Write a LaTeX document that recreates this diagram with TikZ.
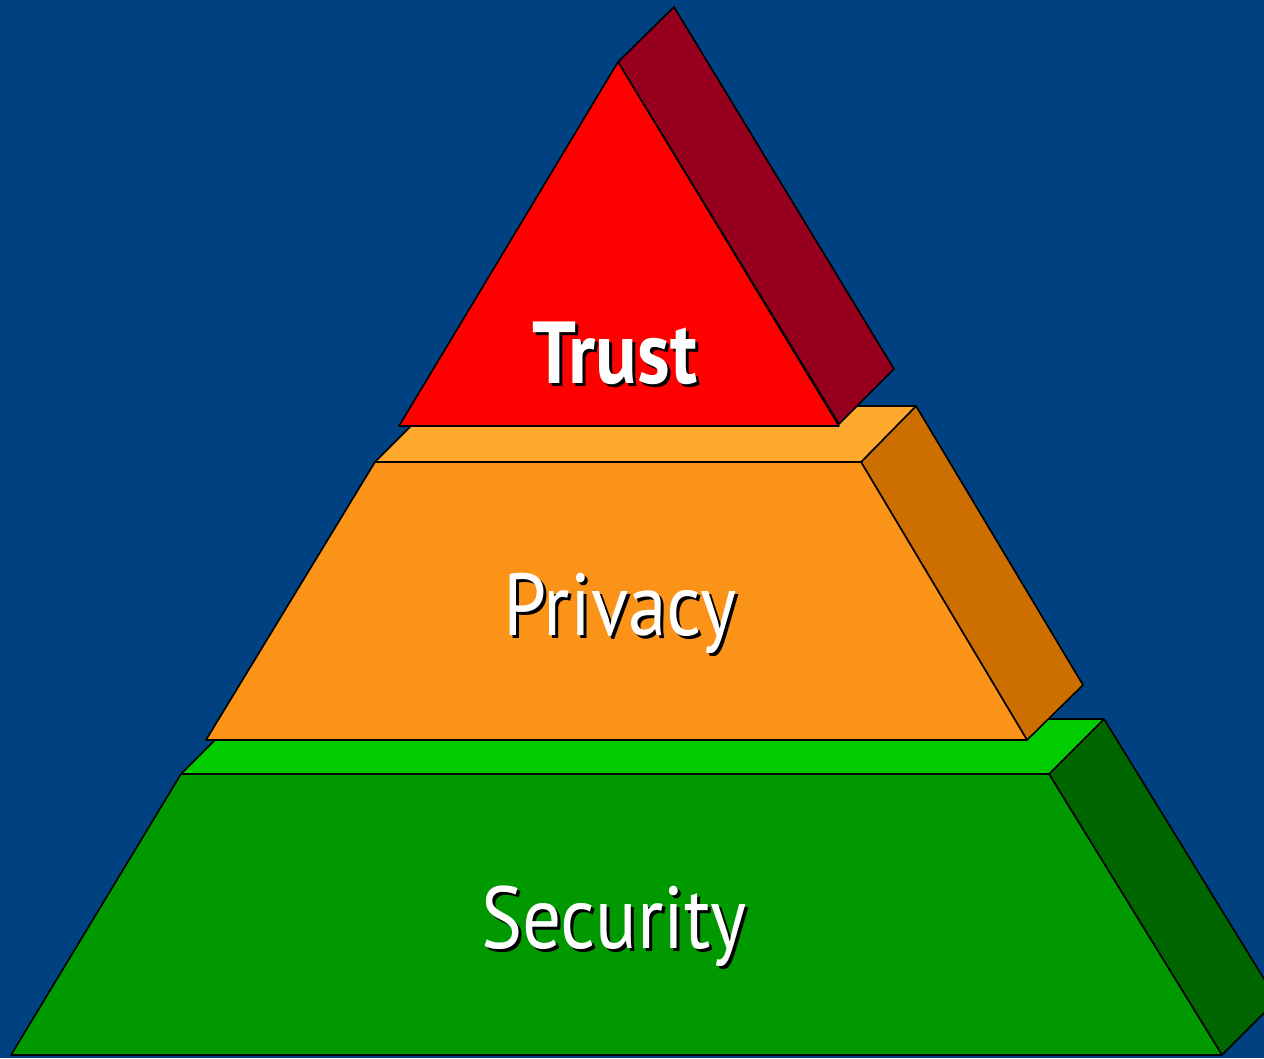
\documentclass[tikz,border=0pt]{standalone}
\usepackage{fontspec}
\setmainfont{PT Sans}
\definecolor{bg}{RGB}{0,65,130}
\definecolor{trustF}{RGB}{255,0,0}
\definecolor{trustS}{RGB}{150,0,30}
\definecolor{privF}{RGB}{250,147,24}
\definecolor{privT}{RGB}{255,170,46}
\definecolor{privS}{RGB}{204,110,0}
\definecolor{secF}{RGB}{0,153,0}
\definecolor{secT}{RGB}{0,204,0}
\definecolor{secS}{RGB}{0,102,0}
\tikzset{
  face/.style={draw=black, line width=1.6pt, line join=round},
  lbl/.style={anchor=base, inner sep=0pt, text=white, font=\fontsize{88}{90}\selectfont},
  shadowlbl/.style={lbl, text=black},
}
\newcommand{\sq}[1]{\scalebox{0.88}[1]{#1}}
\begin{document}
\begin{tikzpicture}[x=1pt,y=-1pt]
\fill[bg] (0,0) rectangle (1264,1058);
\useasboundingbox (0,0) rectangle (1264,1058);
\begin{scope}
\clip (0,0) rectangle (1264,1058);
% Security
\filldraw[face, fill=secS] (1049,774) -- (1104,719) -- (1277,1000) -- (1222,1055) -- cycle;
\filldraw[face, fill=secT] (181,774) -- (236,719) -- (1104,719) -- (1049,774) -- cycle;
\filldraw[face, fill=secF] (181,774) -- (1049,774) -- (1222,1055) -- (11,1055) -- cycle;
% Privacy
\filldraw[face, fill=privS] (861,462) -- (916,406) -- (1083,685) -- (1027,740) -- cycle;
\filldraw[face, fill=privT] (375,462) -- (431,406) -- (916,406) -- (861,462) -- cycle;
\filldraw[face, fill=privF] (375,462) -- (861,462) -- (1027,740) -- (206,740) -- cycle;
% Trust
\filldraw[face, fill=trustS] (618,62) -- (674,7) -- (894,369) -- (839,424) -- cycle;
\filldraw[face, fill=trustF] (618,62) -- (839,426) -- (399,426) -- cycle;
\end{scope}
% labels
\node[shadowlbl] (trustsh) at (618,386) {\sq{\bfseries Trust}};
\node[lbl] (trust) at (615,383) {\sq{\bfseries Trust}};
\node[shadowlbl] (privsh) at (623,638) {\sq{Privacy}};
\node[lbl] (priv) at (620,635) {\sq{Privacy}};
\node[shadowlbl] (secsh) at (617,951) {\sq{Security}};
\node[lbl] (sec) at (614,948) {\sq{Security}};
\end{tikzpicture}
\end{document}
